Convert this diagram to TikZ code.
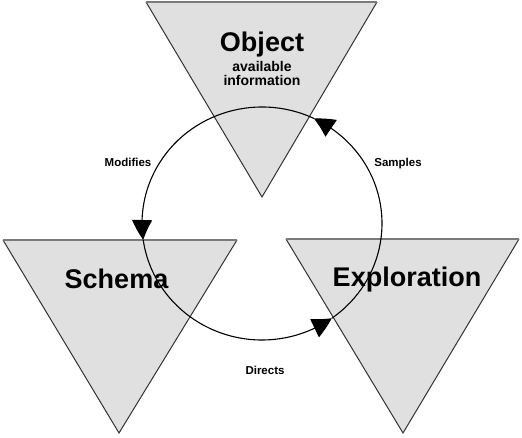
\documentclass[tikz,border=0pt]{standalone}
\usepackage{fontspec}
\setmainfont{Liberation Sans}
\usetikzlibrary{arrows.meta,bending,calc}
\definecolor{trifill}{HTML}{E0E0E0}
\definecolor{triedge}{HTML}{333333}
\definecolor{topedge}{HTML}{7A7A7A}
\tikzset{
  tri/.style={fill=trifill,draw=none},
  triside/.style={draw=triedge,line width=1pt,line join=miter},
  tritop/.style={draw=topedge,line width=2pt},
  bigtxt/.style={font=\fontsize{27}{30}\selectfont\bfseries,inner sep=0pt,anchor=base},
  subtxt/.style={font=\fontsize{14}{14.5}\selectfont\bfseries,inner sep=0pt,anchor=base},
  lbl/.style={font=\fontsize{11.5}{13}\selectfont\bfseries,inner sep=0pt,anchor=base},
  cyc/.style={draw=black,line width=1.1pt,-{Triangle[length=20pt,width=20pt,bend]}}
}
\begin{document}
\begin{tikzpicture}[x=1pt,y=1pt]
\useasboundingbox (0,0) rectangle (522,438);
% triangles
\coordinate (oL) at (146,436); \coordinate (oR) at (377,436); \coordinate (oB) at (262,241);
\coordinate (sL) at (3,198);   \coordinate (sR) at (237,198); \coordinate (sB) at (119,5);
\coordinate (eL) at (286,199); \coordinate (eR) at (519,199); \coordinate (eB) at (403,5);
\foreach \t in {o,s,e}{
  \fill[tri] (\t L) -- (\t R) -- (\t B) -- cycle;
  \draw[triside] (\t R) -- (\t B) -- (\t L);
  \draw[tritop] (\t L) -- (\t R);
}
% texts
\node[bigtxt] (obj) at (262,386) {Object};
\node[subtxt] (av) at (262,366.5) {available};
\node[subtxt] (inf) at (262,352) {information};
\node[bigtxt] (sch) at (116.5,149) {Schema};
\node[bigtxt] (exp) at (407,151) {Exploration};
% cycle
\coordinate (ctr) at (262,214.5);
\coordinate (pS) at ($(ctr)+(64.4:120pt and 116.5pt)$);
\coordinate (pM) at ($(ctr)+(188.1:120pt and 116.5pt)$);
\coordinate (pD) at ($(ctr)+(-54.4:120pt and 116.5pt)$);
\draw[cyc] (pD) arc[start angle=-54.4,end angle=64.4,x radius=120pt,y radius=116.5pt];
\draw[cyc] (pS) arc[start angle=64.4,end angle=188.1,x radius=120pt,y radius=116.5pt];
\draw[cyc] (pM) arc[start angle=188.1,end angle=305.6,x radius=120pt,y radius=116.5pt];
% labels
\node[lbl] (mod) at (128,271.3) {Modifies};
\node[lbl] (sam) at (398,271) {Samples};
\node[lbl] (dir) at (265,63) {Directs};
\end{tikzpicture}
\end{document}
